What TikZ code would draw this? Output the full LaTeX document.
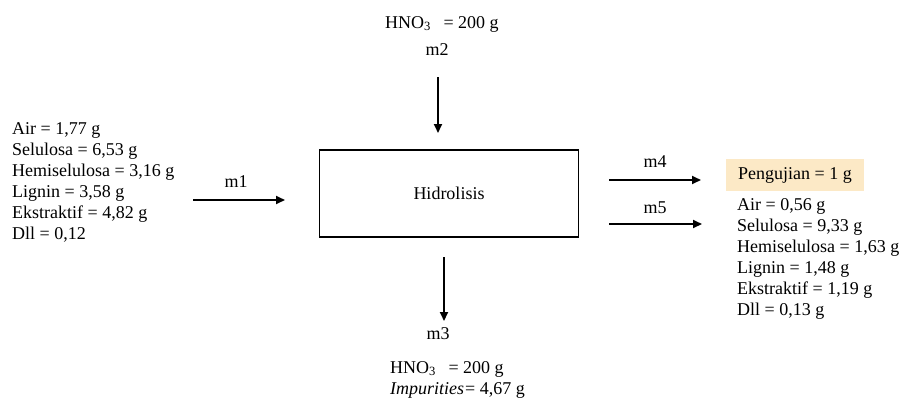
\documentclass[tikz,border=0pt]{standalone}
\usepackage{fontspec}
\setmainfont{Liberation Serif}
\usetikzlibrary{arrows.meta}

\definecolor{peach}{RGB}{252,233,198}

\begin{document}
\begin{tikzpicture}[
    x=1pt, y=-1pt,
    every node/.style={inner sep=0pt, font=\fontsize{18}{21}\selectfont},
    lbl/.style={anchor=base},
    list/.style={anchor=north west, align=left},
    flow/.style={line width=1.8pt, -{Triangle[length=9pt,width=8pt]}},
    proc/.style={draw, line width=1.1pt, minimum width=259pt, minimum height=87pt},
    uji/.style={fill=peach, inner xsep=12pt, minimum height=32pt}]

\useasboundingbox (0,0) rectangle (901,399);

% proses
\node[proc] (hidro) at (449,193.5) {Hidrolisis};

% umpan m1
\node[list] (umpan) at (12,122) {Air = 1,77 g\\ Selulosa = 6,53 g\\ Hemiselulosa = 3,16 g\\
    Lignin = 3,58 g\\ Ekstraktif = 4,82 g\\ Dll = 0,12};
\node[lbl] (m1) at (236,187) {m1};
\coordinate (m1s) at (193,200);
\coordinate (m1e) at (285,200);
\draw[flow] (m1s) -- (m1e);

% asam m2
\node[anchor=base west] (asam) at (385,28) {HNO\textsubscript{3}\hspace{8pt} = 200 g};
\node[lbl] (m2) at (437,55) {m2};
\coordinate (m2s) at (438,77);
\coordinate (m2e) at (438,133);
\draw[flow] (m2s) -- (m2e);

% sisa m3
\coordinate (m3s) at (444,257);
\coordinate (m3e) at (444,321);
\draw[flow] (m3s) -- (m3e);
\node[lbl] (m3) at (438,339) {m3};
\node[list] (sisa) at (390,361) {HNO\textsubscript{3}\hspace{8pt} = 200 g\\ \textit{Impurities}\hspace{1pt}= 4,67 g};

% produk m4, m5
\node[lbl] (m4) at (655,167) {m4};
\coordinate (m4s) at (609,180);
\coordinate (m4e) at (701,180);
\draw[flow] (m4s) -- (m4e);
\node[lbl] (m5) at (655,213) {m5};
\coordinate (m5s) at (609,224);
\coordinate (m5e) at (702,224);
\draw[flow] (m5s) -- (m5e);

\node[uji, anchor=west] (pengujian) at (726,175) {Pengujian = 1 g};
\node[list] (hasil) at (737,198) {Air = 0,56 g\\ Selulosa = 9,33 g\\ Hemiselulosa = 1,63 g\\
    Lignin = 1,48 g\\ Ekstraktif = 1,19 g\\ Dll = 0,13 g};

\end{tikzpicture}
\end{document}
